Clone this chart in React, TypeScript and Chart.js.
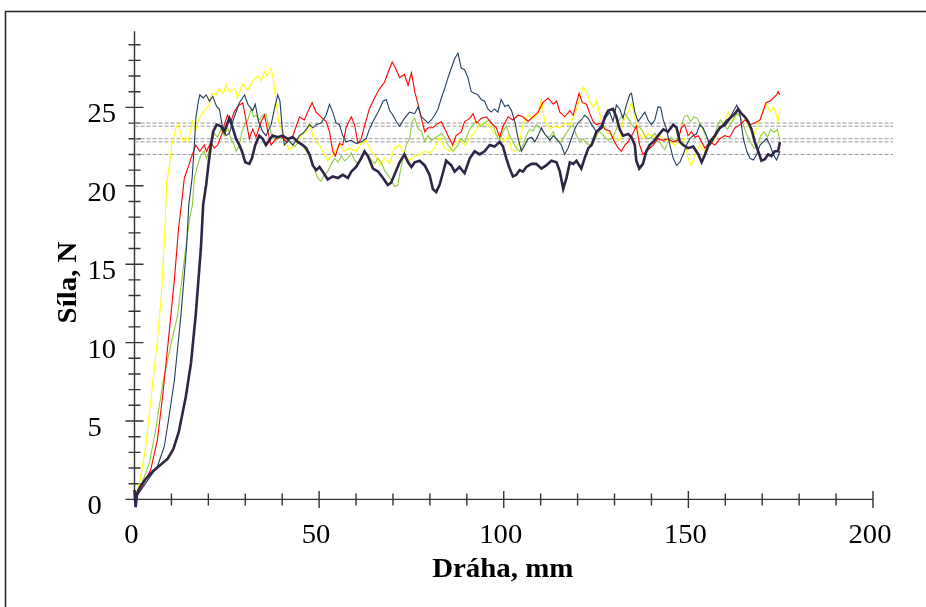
import React, { useEffect, useRef } from "react";
import { Chart, registerables } from "chart.js";

Chart.register(...registerables);

// ---- data (x in mm, y in N) ----
const purplePts: number[][] = [
  [0, 0.6], [0.3, -0.5], [0.7, 0.4], [1.5, 0.8], [3, 1.3], [5, 1.8], [7, 2.2], [9, 2.6], [10.5, 3.2], [12, 4.3], [13, 5.5], [13.9, 6.55], [15.3, 8.7], [16.6, 11.8], [18.0, 16.1], [18.6, 18.8], [19.4, 20.05], [20.1, 21.5], [20.7, 22.6], [21.3, 23.45], [22.25, 23.9], [23.4, 23.8], [24.3, 23.45], [25.2, 24.0], [25.7, 24.3], [26.6, 23.7], [27.5, 23.0], [28.4, 22.6], [29.1, 22.2], [30, 21.5], [31.1, 21.4], [31.8, 21.75], [32.7, 22.6], [33.8, 23.2], [34.7, 23.0], [35.6, 22.6], [36.5, 22.9], [37.4, 23.2], [38.8, 23.1], [40.1, 23.2], [41.5, 23.0], [42.9, 23.1], [44.2, 22.8], [45.6, 22.6], [46.5, 22.4], [47.4, 22.0], [48.3, 21.3], [49.2, 21.0], [50.1, 21.2], [51, 20.9], [52.3, 20.4], [53.7, 20.6], [55.1, 20.5], [56.4, 20.7], [57.8, 20.5], [58.7, 20.9], [60, 21.2], [61.4, 21.75], [62.3, 22.2], [63.2, 21.9], [64.6, 21.1], [66, 20.9], [67.3, 20.5], [68.6, 20.05], [69.5, 20.2], [70.4, 20.7], [71.8, 21.5], [73.1, 22.0], [74.1, 21.5], [75, 21.2], [75.9, 21.5], [77.2, 21.6], [78.6, 21.3], [79.9, 20.7], [80.8, 19.8], [81.7, 19.6], [82.6, 20.05], [83.5, 20.8], [84.4, 21.6], [85.8, 21.3], [86.7, 20.9], [88, 21.2], [89.4, 20.8], [90.8, 21.75], [92.1, 22.2], [93.5, 22.0], [94.8, 22.2], [96.2, 22.6], [97.5, 22.5], [98.9, 22.8], [99.8, 22.5], [100.7, 21.75], [101.6, 21.1], [102.5, 20.6], [103.4, 20.7], [104.3, 21.0], [105.2, 20.9], [106.1, 21.2], [107.5, 21.4], [108.8, 21.4], [110.2, 21.1], [111.5, 21.3], [112.9, 21.6], [114.3, 21.5], [115.2, 20.9], [116.1, 19.8], [117, 20.5], [117.9, 21.5], [118.8, 21.4], [119.7, 21.6], [121, 21.1], [121.9, 21.75], [122.9, 22.4], [123.8, 22.6], [125.1, 23.45], [126.5, 23.7], [127.4, 24.4], [128.3, 24.8], [129.6, 24.9], [130.5, 24.4], [131.4, 23.6], [132.3, 23.2], [133.7, 23.3], [134.6, 23.1], [135.5, 22.6], [135.9, 21.6], [136.7, 21.1], [137.7, 21.4], [138.6, 22.2], [139.5, 22.6], [140.5, 22.8], [141.8, 23.2], [143.2, 23.6], [144.5, 23.45], [145.9, 23.9], [146.8, 23.7], [147.7, 22.8], [148.6, 22.6], [149.9, 22.4], [151.3, 22.5], [152.7, 22.0], [153.6, 21.5], [154.5, 22.0], [155.8, 22.8], [157.2, 23.2], [158.5, 23.7], [159.9, 23.9], [161.2, 24.3], [162.6, 24.6], [163.5, 24.9], [164.4, 24.6], [165.3, 24.4], [166.2, 24.1], [167.1, 23.6], [168, 22.8], [168.9, 22.2], [169.8, 21.6], [170.7, 21.7], [171.6, 22.0], [172.5, 21.9], [173.4, 22.2], [174.3, 22.2], [174.8, 22.8],
];

const navyPts: number[][] = [
  [0, 0], [3.5, 1.2], [6.2, 2.1], [8.05, 3.36], [9.2, 5.05], [10.8, 7.6], [12.6, 11.8], [14.1, 16.1], [14.7, 18.8], [15.6, 20.5], [16.2, 22.6], [16.6, 24.3], [17.3, 25.4], [17.7, 25.8], [18.6, 25.6], [19.4, 25.8], [20.3, 25.4], [21.2, 25.7], [22.25, 25.05], [23, 24.9], [23.7, 23.9], [24.8, 23.2], [25.7, 23.35], [26.6, 24.1], [27.5, 24.7], [28.4, 25.3], [29.8, 25.8], [30.7, 25.2], [32, 24.8], [32.7, 25.2], [33.6, 24.1], [34.7, 23.45], [35.6, 23.2], [37, 23.9], [37.9, 24.9], [38.8, 25.8], [39.4, 25.4], [40, 23.7], [40.6, 22.6], [41.8, 22.9], [42.9, 22.6], [43.8, 22.9], [44.7, 23.2], [45.6, 23.35], [46.5, 23.6], [47.4, 23.9], [48.3, 23.7], [49.2, 23.9], [50.5, 24.0], [51.9, 24.5], [52.8, 25.2], [53.7, 24.7], [54.6, 24.0], [55.5, 23.9], [56.4, 23.2], [57.3, 22.8], [58.7, 22.9], [60, 22.7], [61.4, 22.8], [62.7, 23.0], [63.6, 23.6], [64.6, 24.1], [65.5, 24.5], [66.4, 24.9], [67.3, 25.4], [68.2, 25.5], [69.1, 24.8], [70, 24.5], [70.9, 24.1], [71.8, 23.8], [73.1, 24.3], [74.5, 24.7], [75.9, 24.6], [76.8, 25.05], [77.7, 24.4], [78.6, 24.2], [79.5, 24.0], [80.4, 24.2], [81.3, 24.5], [82.2, 24.9], [83.1, 25.6], [84, 26.2], [84.9, 26.9], [85.8, 27.5], [86.7, 28.1], [87.6, 28.45], [88.5, 27.5], [89.4, 27.4], [90.3, 26.9], [91.2, 26.0], [92.1, 25.9], [93, 25.8], [93.9, 25.5], [94.8, 25.4], [95.7, 24.9], [96.6, 24.7], [97.5, 24.9], [98.4, 24.7], [99.3, 25.5], [100.3, 25.05], [101.2, 25.15], [102.1, 24.8], [103, 24.1], [103.9, 23.0], [104.8, 22.2], [105.7, 22.6], [106.6, 23.0], [107.5, 23.1], [108.4, 22.8], [109.3, 23.2], [110.2, 23.7], [111.1, 23.3], [112.5, 22.9], [113.4, 23.2], [114.3, 23.0], [115.6, 22.6], [116.5, 22.0], [117.4, 22.4], [118.3, 23.0], [119.2, 23.6], [120.1, 24.0], [121, 24.2], [121.9, 24.5], [122.9, 24.3], [123.8, 23.9], [125.1, 23.45], [126.5, 23.9], [127.8, 24.4], [128.7, 24.7], [129.6, 24.1], [130.5, 25.15], [131.4, 24.9], [132.3, 24.3], [133.2, 25.15], [134.1, 25.8], [134.6, 25.9], [135.5, 24.7], [136.4, 24.1], [137.3, 24.4], [138.2, 24.7], [139.1, 24.2], [140, 23.9], [140.9, 24.2], [141.8, 25.05], [142.5, 25.0], [143.2, 24.2], [144.1, 23.6], [145, 22.6], [145.9, 21.75], [146.8, 21.3], [147.7, 21.5], [148.6, 22.0], [149.5, 22.6], [150.4, 23.0], [151.3, 23.2], [152.2, 23.3], [153.1, 23.9], [154, 23.7], [154.9, 23.2], [155.8, 22.6], [156.7, 22.9], [157.6, 23.45], [158.5, 23.6], [159.4, 23.9], [160.3, 24.2], [161.2, 24.3], [162.1, 24.7], [163.1, 25.15], [164, 24.5], [164.9, 23.0], [165.8, 22.2], [166.7, 21.75], [167.6, 21.65], [168.5, 22.0], [169.4, 22.6], [170.3, 22.8], [171.2, 23.0], [172.1, 22.6], [173, 22.0], [173.9, 21.65], [174.8, 22.2],
];

const redPts: number[][] = [
  [0, 0], [2.2, 0.85], [4.4, 1.9], [6.2, 3.8], [7.6, 6.55], [9.0, 9.74], [10.8, 14.0], [11.9, 17.2], [12.85, 19.1], [13.5, 20.5], [14.7, 21.3], [15.3, 21.75], [16.6, 22.6], [17.7, 22.2], [18.9, 22.6], [19.5, 22.2], [20.7, 22.8], [21.6, 22.4], [22.5, 22.6], [23.9, 23.45], [24.3, 23.9], [25.2, 24.5], [26.1, 24.1], [27, 24.7], [27.9, 25.05], [29.3, 25.3], [30.2, 24.2], [31.1, 23.0], [32, 23.6], [32.9, 23.1], [34.3, 24.1], [35.2, 24.5], [36.1, 23.45], [37, 22.6], [38.3, 23.0], [39.7, 23.2], [41.1, 22.8], [42.9, 23.2], [44.7, 24.4], [46, 24.2], [46.9, 24.7], [48.1, 25.3], [49.2, 24.7], [50.5, 24.4], [51.9, 24.1], [52.8, 23.45], [53.7, 22.2], [54.4, 21.9], [55.5, 22.7], [56.4, 22.6], [57.3, 23.7], [58.7, 24.4], [59.6, 23.9], [60.5, 22.7], [61.4, 23.0], [62.3, 23.8], [63.6, 24.9], [65, 25.6], [66.4, 26.2], [67.7, 26.6], [69.1, 27.5], [69.8, 27.9], [70.7, 27.5], [71.8, 26.9], [73.1, 27.1], [74.1, 26.4], [75, 27.2], [75.9, 26.0], [76.8, 25.2], [77.7, 24.3], [78.6, 23.45], [79.5, 23.7], [80.8, 23.7], [81.7, 23.9], [83.1, 24.1], [84.4, 23.45], [85.3, 23.0], [86.2, 22.6], [87.1, 23.2], [88.5, 23.45], [89.4, 24.1], [90.8, 24.3], [91.7, 24.6], [92.6, 24.0], [93.9, 24.3], [95.3, 24.4], [96.6, 24.0], [98, 23.7], [98.9, 23.1], [99.8, 23.8], [101.2, 24.4], [102.5, 24.2], [103.9, 24.5], [105.2, 24.4], [106.6, 24.1], [107.9, 24.4], [109.3, 24.7], [110.6, 25.3], [112, 25.6], [113.4, 25.2], [114.3, 25.4], [115.2, 24.7], [116.5, 24.4], [117.9, 24.8], [118.8, 24.5], [119.7, 25.3], [120.4, 25.9], [121.3, 25.3], [122.4, 25.2], [123.3, 24.6], [124.2, 24.1], [125.1, 23.9], [126.5, 24.0], [127.4, 23.6], [128.7, 23.5], [130, 22.8], [131, 22.4], [131.9, 22.2], [132.8, 22.6], [133.7, 22.8], [135, 23.35], [135.9, 23.8], [136.8, 22.6], [137.7, 22.0], [139.1, 22.3], [140.5, 22.6], [141.8, 23.0], [143.1, 22.9], [144.5, 23.0], [145.9, 22.8], [147.2, 22.9], [148.1, 23.7], [149, 23.9], [149.9, 23.2], [150.8, 23.45], [151.8, 23.1], [152.7, 23.2], [153.6, 22.8], [154.5, 22.4], [155.8, 22.8], [157.2, 22.6], [158.5, 23.0], [159.9, 23.2], [161.2, 23.1], [162.6, 23.7], [164, 23.9], [165.3, 24.2], [166.7, 23.9], [168, 24.0], [169.4, 24.2], [170.3, 24.8], [171, 25.3], [172.1, 25.4], [173, 25.6], [173.9, 25.8], [174.3, 26.0], [174.8, 25.8],
];

const greenPts: number[][] = [
  [0, 0], [1.7, 0.85], [4.0, 2.3], [5.7, 4.4], [7.8, 7.6], [9.8, 9.8], [11.7, 11.8], [13.9, 16.1], [15.0, 18.0], [15.7, 18.8], [16.2, 20.5], [17.1, 21.3], [18, 22.0], [18.9, 22.2], [19.5, 21.75], [20.7, 22.6], [21.6, 23.35], [22.5, 23.1], [23.4, 23.6], [24.3, 23.2], [25.2, 23.7], [26.1, 23.0], [27, 22.6], [27.5, 22.2], [28.4, 22.6], [29.1, 23.45], [29.8, 23.9], [30.7, 24.2], [31.6, 24.9], [32.2, 24.4], [32.9, 24.5], [33.8, 24.2], [34.7, 24.5], [35.6, 24.6], [36.3, 23.9], [37.3, 23.2], [38.3, 22.9], [39.7, 23.1], [41.1, 22.8], [42, 22.8], [43.3, 22.5], [44.7, 22.8], [46, 22.4], [47, 22.0], [47.8, 21.65], [48.7, 21.1], [49.6, 20.5], [50.5, 20.3], [51.4, 20.7], [52.3, 20.9], [53.3, 21.4], [54.2, 21.75], [55.1, 21.5], [56, 21.9], [56.9, 21.6], [57.8, 21.75], [58.7, 22.1], [59.6, 21.65], [60.5, 21.4], [61.4, 21.9], [62.3, 22.2], [63.2, 22.0], [64.1, 21.65], [65, 21.4], [65.9, 21.75], [66.8, 21.5], [67.7, 21.0], [68.6, 20.7], [69.5, 20.4], [70.4, 19.95], [71.3, 20.05], [71.8, 20.7], [72.7, 21.75], [73.6, 22.6], [74.5, 23.0], [75.2, 24.1], [75.9, 24.3], [76.8, 23.6], [77.7, 23.5], [78.6, 22.8], [79.5, 23.2], [80.4, 22.9], [81.7, 23.1], [83.1, 23.35], [84, 23.1], [84.9, 22.6], [86.3, 22.2], [87.6, 22.6], [88.5, 23.0], [89.4, 22.8], [90.8, 23.6], [91.7, 23.9], [92.6, 24.1], [93.9, 23.8], [95.3, 24.1], [96.2, 24.2], [97.1, 23.9], [98, 23.2], [98.9, 22.9], [99.8, 23.45], [100.7, 23.8], [101.6, 23.2], [102.5, 22.8], [103.4, 22.4], [104.3, 22.2], [105.2, 22.6], [106.1, 23.2], [107, 23.6], [107.9, 23.5], [108.8, 23.9], [110.2, 23.6], [111.5, 23.2], [112.4, 23.1], [113.4, 23.45], [114.3, 22.9], [115.6, 22.8], [116.5, 23.2], [117.9, 23.7], [118.8, 23.9], [119.7, 23.2], [120.6, 22.8], [121.5, 23.0], [122.4, 22.7], [123.8, 22.6], [124.7, 22.9], [125.6, 23.45], [126.5, 23.35], [127.4, 23.1], [128.3, 22.9], [129.6, 23.1], [130.5, 23.6], [131, 24.1], [131.9, 24.4], [132.8, 24.6], [133.7, 24.3], [134.6, 23.9], [135.5, 23.7], [136.4, 23.8], [137.3, 23.6], [138.2, 23.2], [139.1, 23.0], [140, 23.1], [140.9, 23.35], [141.8, 23.0], [142.7, 22.6], [143.6, 22.3], [144.5, 22.8], [145.4, 23.1], [146.3, 22.8], [147.2, 23.0], [148.1, 23.7], [148.8, 24.4], [149.7, 24.5], [150.6, 24.1], [151.5, 24.4], [152.4, 24.3], [153.3, 23.9], [154.2, 23.45], [155.1, 23.0], [156, 22.6], [156.9, 23.0], [157.8, 23.8], [158.7, 24.2], [159.6, 23.9], [160.5, 23.6], [161.4, 23.9], [162.3, 24.3], [163.2, 24.6], [164.1, 24.4], [165, 23.8], [165.9, 23.2], [166.8, 22.8], [167.8, 22.4], [168.7, 22.6], [169.6, 23.2], [170.5, 23.45], [171.4, 23.1], [172.3, 23.6], [173.2, 23.4], [174.1, 23.6], [174.8, 22.9],
];

const yellowPts: number[][] = [
  [0, 0], [1.5, 1.2], [3, 3.3], [4.5, 6.5], [6, 9.7], [7.3, 13], [8.2, 17], [8.7, 20.2], [9.2, 20.9], [10.1, 22.6], [11.2, 23.65], [11.9, 23.9], [13.2, 22.8], [13.9, 23.1], [14.6, 22.9], [15.7, 24.1], [16.5, 23.5], [17.5, 24.3], [18.9, 24.8], [20.1, 25.1], [21, 25.9], [22.1, 25.8], [23, 26.2], [24.1, 25.9], [24.8, 26.5], [25.7, 26.0], [27.3, 26.2], [27.9, 25.6], [29.3, 26.5], [30.6, 26.1], [32.4, 26.8], [33.4, 27.0], [34.3, 26.7], [35.2, 27.3], [35.8, 27.0], [37, 27.5], [37.6, 26.8], [38.3, 25.4], [39.2, 23.9], [40.6, 23.0], [41.9, 22.3], [43.8, 22.6], [45.1, 23.2], [46.5, 23.45], [47.4, 24.0], [48.3, 23.2], [49.2, 22.8], [50.1, 22.6], [51, 22.2], [52.3, 21.6], [53.7, 22.0], [55.5, 22.6], [56.9, 22.2], [58.2, 22.4], [60, 22.2], [61.4, 22.7], [62.7, 22.9], [64.1, 22.2], [65.5, 21.8], [66.4, 21.3], [67.7, 21.8], [69.1, 21.4], [70.4, 22.4], [71.8, 22.6], [73.1, 22.0], [74.5, 21.6], [75.9, 21.9], [77.2, 22.0], [78.6, 22.2], [80, 22.1], [81.3, 22.4], [82.6, 23.1], [84, 22.4], [85.3, 22.2], [86.7, 22.6], [88, 23.0], [89.4, 22.6], [90.8, 23.0], [92.1, 23.45], [93.5, 23.9], [94.8, 24.0], [96.2, 23.8], [97.5, 23.3], [98.9, 23.2], [100.3, 22.8], [101.2, 23.2], [102.1, 22.3], [103, 22.2], [104.3, 22.8], [105.2, 23.9], [106.6, 24.5], [107.9, 24.3], [109.3, 24.6], [110.2, 25.5], [111.1, 24.1], [112.5, 23.6], [113.8, 23.8], [115.2, 23.7], [116.5, 24.0], [117.9, 23.9], [119.2, 24.5], [120.1, 25.2], [121.5, 26.3], [122.4, 26.0], [123.3, 25.4], [124.2, 25.0], [125.1, 25.4], [126.5, 24.1], [127.8, 23.45], [129.6, 23.1], [131.4, 22.9], [132.3, 24.1], [133.7, 24.7], [134.6, 25.3], [135.5, 24.3], [136.4, 23.45], [137.7, 23.0], [139.1, 23.3], [140.5, 23.1], [142.3, 23.2], [143.6, 22.9], [145, 22.8], [146.3, 22.6], [147.7, 22.8], [149, 23.0], [149.9, 21.75], [150.8, 21.3], [151.8, 22.0], [153.1, 22.6], [154.5, 22.2], [155.8, 22.6], [157.2, 23.0], [158.5, 23.7], [159.9, 24.1], [160.8, 24.7], [162.1, 24.1], [163.5, 24.8], [164.9, 24.5], [166.2, 23.9], [167.6, 23.2], [168.9, 23.9], [170.3, 24.8], [171.2, 25.2], [172.1, 24.7], [173, 25.0], [173.9, 24.5], [174.3, 24.1], [174.8, 24.9],
];

const meanLevels = [24.0, 23.8, 23.0, 22.8, 22.0];
const meanRange = [0, 205.4];

const yTickLabels = [0, 5, 10, 15, 20, 25];
const xTickLabels = [0, 50, 100, 150, 200];
const xTitle = "Dráha, mm";
const yTitle = "Síla, N";

const toXY = (pts: number[][]) => pts.map((p) => ({ x: p[0], y: p[1] }));

function drawText(ctx: CanvasRenderingContext2D, s: string, x: number, y: number, font: string, align: CanvasTextAlign, sx: number, sy: number, rot = 0) {
  ctx.save();
  ctx.translate(x, y);
  if (rot) ctx.rotate(rot);
  ctx.scale(sx, sy);
  ctx.font = font;
  ctx.textAlign = align;
  ctx.textBaseline = "alphabetic";
  ctx.fillStyle = "#000";
  ctx.fillText(s, 0, 0);
  ctx.restore();
}

const framePlugin = {
  id: "frame",
  beforeDatasetsDraw(chart: any) {
    const ctx: CanvasRenderingContext2D = chart.ctx;
    const xs = chart.scales.x;
    const ys = chart.scales.y;
    const x0 = xs.getPixelForValue(0);
    const y0 = ys.getPixelForValue(0);
    ctx.save();
    // outer frame (top and left)
    ctx.strokeStyle = "#222";
    ctx.lineWidth = 1.5;
    ctx.beginPath();
    ctx.moveTo(5.5, 1000);
    ctx.lineTo(5.5, 11.5);
    ctx.lineTo(1000, 11.5);
    ctx.stroke();

    ctx.strokeStyle = "#333";
    ctx.lineWidth = 1.4;
    ctx.beginPath();
    ctx.moveTo(x0, y0);
    ctx.lineTo(x0, ys.getPixelForValue(29.85));
    ctx.moveTo(x0, y0);
    ctx.lineTo(xs.getPixelForValue(200), y0);
    for (let v = 0; v <= 29; v++) {
      const py = ys.getPixelForValue(v);
      const h = v % 5 === 0 ? 9 : 6;
      ctx.moveTo(x0 - h, py);
      ctx.lineTo(x0 + h, py);
    }
    for (let v = 10; v <= 200; v += 10) {
      const px = xs.getPixelForValue(v);
      const h = v % 50 === 0 ? 8.5 : 6;
      ctx.moveTo(px, y0 - h);
      ctx.lineTo(px, y0 + h);
    }
    ctx.stroke();
    ctx.restore();

    const tickFont = '27px "Liberation Serif", "Times New Roman", serif';
    yTickLabels.forEach((v) => {
      drawText(ctx, String(v), 87.5, ys.getPixelForValue(v) + 15, tickFont, "left", 1.06, 1.05);
    });
    xTickLabels.forEach((v) => {
      drawText(ctx, String(v), xs.getPixelForValue(v) - 3, y0 + 44, tickFont, "center", 1.06, 1.05);
    });
    const titleFont = 'bold 27px "Liberation Serif", "Times New Roman", serif';
    drawText(ctx, xTitle, xs.getPixelForValue(100) - 1, y0 + 78, titleFont, "center", 1.07, 1.05);
    drawText(ctx, yTitle, 76, 282.5, titleFont, "center", 1.07, 1.05, -Math.PI / 2);
  },
};

export default function App() {
  const ref = useRef<HTMLCanvasElement>(null);
  useEffect(() => {
    if (!ref.current) return;
    const thin = 1.1;
    const series = [
      { pts: purplePts, color: "#2f2546", w: 2.6 },
      { pts: navyPts, color: "#203d5e", w: thin },
      { pts: redPts, color: "#ff0000", w: thin },
      { pts: greenPts, color: "#92cc3e", w: thin },
      { pts: yellowPts, color: "#ffff00", w: thin },
    ];
    const datasets: any[] = series.map((s) => ({
      data: toXY(s.pts),
      borderColor: s.color,
      borderWidth: s.w,
      showLine: true,
      pointRadius: 0,
      tension: 0,
      clip: false,
    }));
    meanLevels.forEach((m) => {
      datasets.push({
        data: [{ x: meanRange[0], y: m }, { x: meanRange[1], y: m }],
        borderColor: "#9a9a9a",
        borderWidth: 1,
        borderDash: [4, 2],
        showLine: true,
        pointRadius: 0,
      });
    });
    const chart = new Chart(ref.current, {
      type: "scatter",
      data: { datasets },
      options: {
        animation: false,
        responsive: false,
        devicePixelRatio: 1,
        layout: { padding: { left: 134.5, top: 29, right: 32.7, bottom: 107.6 } },
        scales: {
          x: { type: "linear", min: 0, max: 205.5, display: false },
          y: { type: "linear", min: 0, max: 30, display: false },
        },
        plugins: { legend: { display: false }, tooltip: { enabled: false } },
      },
      plugins: [framePlugin],
    } as any);
    return () => chart.destroy();
  }, []);
  return (
    <div style={{ position: "fixed", left: 0, top: 0, width: 926, height: 607, background: "#fff" }}>
      <canvas ref={ref} width={926} height={607} style={{ display: "block" }} />
    </div>
  );
}
